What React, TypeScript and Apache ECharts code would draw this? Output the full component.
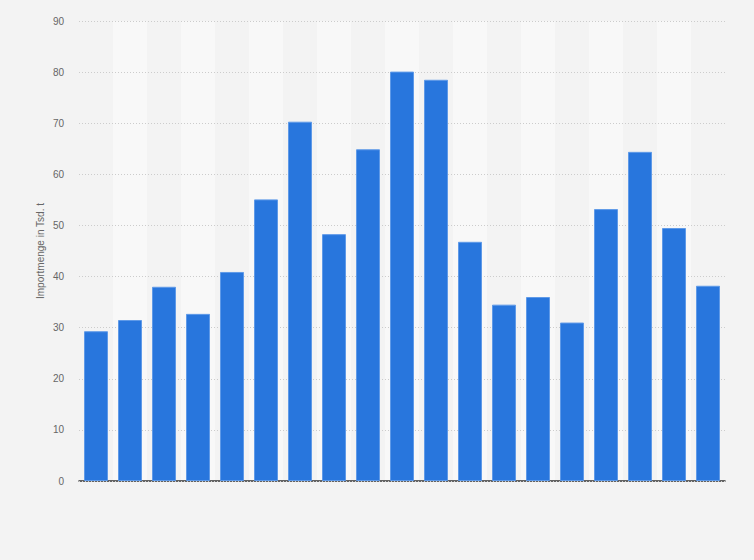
import React, { useEffect, useRef } from "react";
import * as echarts from "echarts";

const categories: string[] = [
  "1", "2", "3", "4", "5", "6", "7", "8", "9", "10",
  "11", "12", "13", "14", "15", "16", "17", "18", "19",
];
const importValues: number[] = [
  29.3, 31.5, 38.0, 32.7, 40.9, 55.1, 70.3, 48.3, 64.9, 80.1,
  78.5, 46.8, 34.5, 36.0, 31.0, 53.2, 64.4, 49.5, 38.2,
];
const yAxisName = "Importmenge in Tsd. t";
const yMin = 0;
const yMax = 90;
const yInterval = 10;

export default function App() {
  const ref = useRef<HTMLDivElement>(null);
  useEffect(() => {
    document.body.style.margin = "0";
    if (!ref.current) return;
    const chart = echarts.init(ref.current, undefined, { renderer: "svg" });
    chart.setOption({
      animation: false,
      backgroundColor: "#f3f3f3",
      grid: { left: 79, right: 29, top: 21, bottom: 79, containLabel: false },
      xAxis: {
        type: "category",
        data: categories,
        z: 0,
        axisLabel: { show: false },
        axisTick: { show: false },
        axisLine: { show: true, lineStyle: { color: "#333333", width: 1.5 } },
        splitArea: {
          show: true,
          areaStyle: { color: ["rgba(243,243,243,1)", "rgba(248,248,248,1)"] },
        },
      },
      yAxis: {
        type: "value",
        z: 1,
        min: yMin,
        max: yMax,
        interval: yInterval,
        name: yAxisName,
        nameLocation: "middle",
        nameGap: 34,
        nameMoveOverlap: false,
        nameTextStyle: { color: "#666666", fontSize: 10, fontFamily: "Liberation Sans, Arial, sans-serif" },
        axisLine: { show: false },
        axisTick: { show: false },
        axisLabel: {
          color: "#666666",
          fontSize: 10,
          margin: 15,
          fontFamily: "Liberation Sans, Arial, sans-serif",
        },
        splitLine: { show: true, lineStyle: { color: "#cccccc", type: [1, 2], width: 1 } },
      },
      series: [
        {
          type: "bar",
          z: 2,
          data: importValues,
          barWidth: 24,
          itemStyle: { color: "#2876dd", borderColor: "#5f9ae8", borderWidth: 1 },
        },
      ],
    });
    return () => chart.dispose();
  }, []);
  return <div ref={ref} style={{ width: 754, height: 560 }} />;
}
